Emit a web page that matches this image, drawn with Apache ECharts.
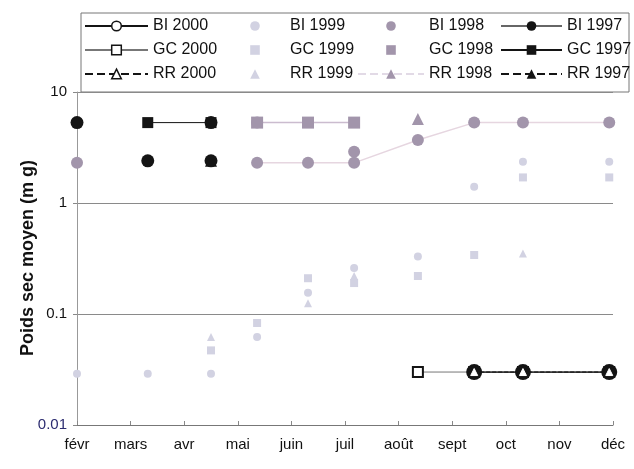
<!DOCTYPE html>
<html><head><meta charset="utf-8">
<script src="https://cdn.jsdelivr.net/npm/echarts@6/dist/echarts.min.js"></script>
<style>html,body{margin:0;padding:0;background:#fff}#c{width:634px;height:469px}</style>
</head><body><div id="c"></div>
<script>
// Month tick labels (axis index 0 = févr)
const months = ['févr','mars','avr','mai','juin','juil','août','sept','oct','nov','déc'];
// Sampling dates, expressed in months after 1 Feb
const sampleMonth = [0, 1.32, 2.5, 3.36, 4.31, 5.17, 6.36, 7.41, 8.32, 9.93];

// Poids sec moyen (mg) per sampling date (null = no sample)
const bi2000  = [null,null,null,null,null,null,null,0.03,0.03,0.03];
const gc2000  = [null,null,null,null,null,null,0.03,0.03,0.03,0.03];
const rr2000  = [null,null,null,null,null,null,null,0.03,0.03,0.03];

const bi1999  = [0.029,0.029,0.029,0.062,0.155,0.26,0.33,1.4,2.35,2.35];
const gc1999  = [null,null,0.047,0.083,0.21,0.19,0.22,0.34,1.7,1.7];
const rr1999  = [null,null,0.062,null,0.125,0.22,null,null,0.35,null];

const bi1998  = [2.3,null,null,2.3,2.3,2.3,3.7,5.3,5.3,5.3];
const bi1998b = [null,null,null,5.3,null,2.9,null,null,null,null];
const gc1998  = [null,null,null,5.3,5.3,5.3,null,null,null,null];
const rr1998  = [null,null,null,null,null,null,5.7,null,null,null];

const bi1997  = [5.3,null,5.3,null,null,null,null,null,null,null];
const bi1997b = [null,2.4,2.4,null,null,null,null,null,null,null];
const gc1997  = [null,5.3,5.3,null,null,null,null,null,null,null];
const rr1997  = [null,null,2.4,null,null,null,null,null,null,null];

function pairs(vals){ return sampleMonth.map((m,i)=>[m, vals[i]==null ? '-' : vals[i]]); }

const BLACK='#141414', PURPLE='#a295ab', LIGHT='#d2d2e2';
const FONT='Liberation Sans, Arial, sans-serif';

function line(name, vals, o){
  return Object.assign({name, type:'line', data:pairs(vals), connectNulls:false,
    symbolSize:12, animation:false}, o);
}
const NOLINE = {opacity:0, width:0};

const series = [
  // 1999 (markers only)
  line('BI 1999', bi1999, {symbol:'circle', symbolSize:8, itemStyle:{color:LIGHT}, lineStyle:NOLINE}),
  line('GC 1999', gc1999, {symbol:'rect', symbolSize:8, itemStyle:{color:LIGHT}, lineStyle:NOLINE}),
  line('RR 1999', rr1999, {symbol:'triangle', symbolSize:8, itemStyle:{color:LIGHT}, lineStyle:NOLINE}),
  // 1998
  line('BI 1998', bi1998, {symbol:'circle', itemStyle:{color:PURPLE}, lineStyle:{color:'#e6d6e0', width:1.5}}),
  line('BI 1998', bi1998b, {symbol:'circle', itemStyle:{color:PURPLE}, lineStyle:NOLINE}),
  line('GC 1998', gc1998, {symbol:'rect', itemStyle:{color:PURPLE}, lineStyle:{color:'#cbbccf', width:1.5}}),
  line('RR 1998', rr1998, {symbol:'triangle', itemStyle:{color:PURPLE}, lineStyle:{color:'#e2dae6', type:'dashed', width:1}}),
  // 1997
  line('RR 1997', rr1997, {symbol:'triangle', itemStyle:{color:BLACK}, lineStyle:{color:BLACK, type:'dashed', width:1}}),
  line('GC 1997', gc1997, {symbol:'rect', symbolSize:11, itemStyle:{color:BLACK}, lineStyle:{color:BLACK, width:1}}),
  line('BI 1997', bi1997, {symbol:'circle', symbolSize:13, itemStyle:{color:BLACK}, lineStyle:{color:'#666', width:1}}),
  line('BI 1997', bi1997b, {symbol:'circle', symbolSize:13, itemStyle:{color:BLACK}, lineStyle:NOLINE}),
  // 2000
  line('GC 2000', gc2000, {symbol:'rect', symbolSize:10, itemStyle:{color:'#fff', borderColor:BLACK, borderWidth:2}, lineStyle:{color:'#777', width:1}}),
  line('BI 2000', bi2000, {symbol:'circle', symbolSize:14, itemStyle:{color:BLACK, borderColor:BLACK, borderWidth:2}, lineStyle:{color:BLACK, width:1.2}}),
  line('RR 2000', rr2000, {symbol:'triangle', symbolSize:7, itemStyle:{color:'#fff', borderColor:'#fff', borderWidth:1}, lineStyle:{color:BLACK, type:'dashed', width:1}})
];

const legText = {fontFamily:FONT, fontSize:16, color:'#111', lineHeight:16};
function leg(left, w, data){
  return {left, top:13, orient:'vertical', itemWidth:w, itemHeight:12, itemGap:8,
    textStyle:legText, selectedMode:false, data};
}
const openSym = (name)=>({name, itemStyle:{color:'#fff', borderColor:BLACK, borderWidth:1.5}});

const option = {
  backgroundColor:'#fff',
  animation:false,
  grid:{left:77, right:21, top:92, bottom:44},
  legend:[
    leg(79, 63, [openSym('BI 2000'), openSym('GC 2000'), openSym('RR 2000')]),
    leg(220, 60, ['BI 1999','GC 1999','RR 1999']),
    leg(352, 66, [{name:'BI 1998', lineStyle:{opacity:0}}, {name:'GC 1998', lineStyle:{opacity:0}}, 'RR 1998']),
    leg(495, 61, ['BI 1997','GC 1997','RR 1997'])
  ],
  xAxis:{type:'value', min:0, max:10, interval:1,
    axisLine:{lineStyle:{color:'#777'}},
    axisTick:{show:true, inside:true, length:4, lineStyle:{color:'#888'}},
    splitLine:{show:false},
    axisLabel:{margin:12, fontFamily:FONT, fontSize:15, color:'#111',
      formatter:(v)=> (Number.isInteger(v) && months[v]) ? months[v] : ''}
  },
  yAxis:{type:'log', logBase:10, min:0.01, max:10,
    axisLine:{show:true, lineStyle:{color:'#999'}},
    axisTick:{show:true, length:4, lineStyle:{color:'#888'}},
    splitLine:{show:true, lineStyle:{color:'#8a8a8a', width:1}},
    axisLabel:{margin:10, fontFamily:FONT, fontSize:15,
      color:(v)=> (Number(v) <= 0.011 ? '#2c2c70' : '#111'),
      formatter:(v)=> String(Number(v))}
  },
  graphic:[
    {type:'rect', shape:{x:81, y:13, width:548, height:79}, style:{fill:'none', stroke:'#777', lineWidth:1}, z:-1},
    {type:'text', x:28, y:258, rotation:Math.PI/2,
      style:{text:'Poids sec moyen (m g)', font:'bold 18px Liberation Sans, Arial, sans-serif', fill:'#111',
        textAlign:'center', textVerticalAlign:'middle'}}
  ],
  series
};
const chart = echarts.init(document.getElementById('c'), null, {renderer:'canvas'});
chart.setOption(option);
</script></body></html>
